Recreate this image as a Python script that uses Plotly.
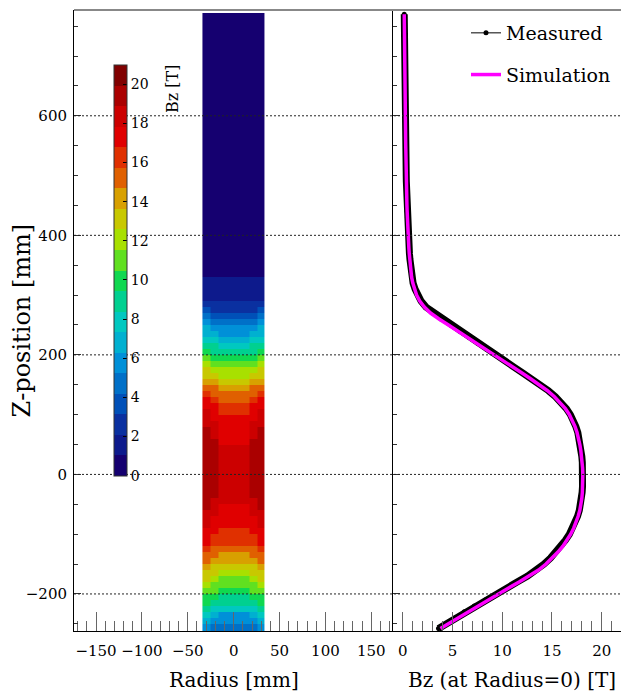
import plotly.graph_objects as go

FONT = "DejaVu Serif"

# ---------------- right panel: on-axis Bz profile ----------------
z_mm = [-258] + list(range(-250, 771, 10))
bz_measured = [
    3.6, 4.4, 5.3, 6.2, 7.2, 8.3, 9.4, 10.4, 11.5, 12.55,
    13.45, 14.2, 14.85, 15.4, 15.9, 16.35, 16.75, 17.08, 17.35, 17.57,
    17.75, 17.88, 17.97, 18.03, 18.07, 18.1, 18.1, 18.08, 18.05, 18.0,
    17.93, 17.85, 17.75, 17.6, 17.4, 17.15, 16.85, 16.45, 15.95, 15.35,
    14.65, 13.85, 12.95, 12.05, 11.15, 10.25, 9.3, 8.4, 7.5, 6.6,
    5.7, 4.8, 3.85, 3.0, 2.35, 1.85, 1.5, 1.25, 1.05, 0.93,
    0.85, 0.79, 0.73, 0.68, 0.64, 0.6, 0.56, 0.53, 0.5, 0.48,
    0.46, 0.44, 0.42, 0.4, 0.39, 0.37, 0.36, 0.35, 0.34, 0.33,
    0.32, 0.31, 0.3, 0.29, 0.28, 0.27, 0.26, 0.25, 0.24, 0.24,
    0.23, 0.22, 0.22, 0.21, 0.21, 0.2, 0.2, 0.19, 0.19, 0.18,
    0.18, 0.17, 0.17, 0.16,
]
bz_simulation = [
    3.8, 4.6, 5.55, 6.5, 7.5, 8.55, 9.6, 10.65, 11.7, 12.75,
    13.65, 14.4, 15.05, 15.6, 16.1, 16.5, 16.88, 17.18, 17.43, 17.63,
    17.8, 17.92, 18.0, 18.05, 18.08, 18.1, 18.1, 18.08, 18.04, 17.98,
    17.9, 17.8, 17.68, 17.52, 17.32, 17.06, 16.75, 16.35, 15.85, 15.25,
    14.55, 13.75, 12.85, 11.95, 11.05, 10.15, 9.2, 8.3, 7.4, 6.48,
    5.55, 4.6, 3.65, 2.8, 2.18, 1.72, 1.4, 1.18, 1.02, 0.9,
    0.82, 0.76, 0.71, 0.66, 0.62, 0.58, 0.55, 0.52, 0.49, 0.47,
    0.45, 0.43, 0.41, 0.4, 0.38, 0.37, 0.36, 0.35, 0.34, 0.33,
    0.32, 0.31, 0.3, 0.29, 0.28, 0.27, 0.26, 0.25, 0.24, 0.24,
    0.23, 0.22, 0.22, 0.21, 0.21, 0.2, 0.2, 0.19, 0.19, 0.18,
    0.18, 0.17, 0.17, 0.16,
]

# ---------------- left panel: 2D Bz map ----------------
radius_edges = [-34, -25.5, -17, -8.5, 0, 8.5, 17, 25.5, 34]
zmap_edges = [-265] + list(range(-250, 351, 10)) + [772]
bz_map_r4 = [
    4.3, 5.3, 6.2, 7.45, 8.55, 9.3, 10.15, 10.9, 11.5, 12.25,
    13.0, 13.7, 14.5, 15.2, 15.85, 16.2, 16.6, 16.9, 17.15, 17.4,
    17.7, 17.9, 18.0, 18.05, 18.1, 18.1, 18.1, 18.05, 18.0, 17.95,
    17.9, 17.8, 17.68, 17.5, 17.28, 17.0, 16.65, 16.2, 15.65, 15.0,
    14.25, 13.4, 12.5, 11.6, 10.7, 9.75, 8.85, 7.95, 7.05, 6.15,
    5.25, 4.3, 3.4, 2.65, 2.2, 1.65, 1.35, 1.15, 1.08, 0.98,
    0.85, 0.4,
]
bz_map_r21 = [
    4.9, 5.9, 6.9, 8.1, 9.1, 9.9, 10.7, 11.45, 12.1, 12.8,
    13.55, 14.25, 15.0, 15.7, 16.3, 16.75, 17.1, 17.45, 17.75, 18.0,
    18.3, 18.85, 19.0, 19.05, 19.1, 19.1, 19.1, 19.05, 19.0, 18.95,
    18.95, 18.92, 18.6, 18.35, 18.05, 17.7, 17.3, 16.85, 16.3, 15.65,
    14.9, 14.05, 13.15, 12.25, 11.3, 10.35, 9.45, 8.55, 7.6, 6.7,
    5.75, 4.8, 3.8, 2.95, 2.25, 1.7, 1.38, 1.17, 1.08, 0.98,
    0.86, 0.42,
]
bz_map_r30 = [
    5.4, 6.4, 7.5, 8.6, 9.6, 10.4, 11.2, 11.95, 12.65, 13.35,
    14.05, 14.75, 15.5, 16.2, 16.9, 17.4, 17.7, 18.2, 18.6, 18.9,
    19.0, 19.1, 19.3, 19.4, 19.45, 19.5, 19.5, 19.45, 19.4, 19.35,
    19.3, 19.2, 19.1, 19.0, 18.75, 18.4, 17.95, 17.4, 16.8, 16.1,
    15.35, 14.5, 13.6, 12.7, 11.75, 10.8, 9.9, 9.0, 8.1, 7.2,
    6.3, 5.3, 4.2, 3.25, 2.4, 1.8, 1.42, 1.2, 1.1, 0.99,
    0.87, 0.45,
]
column_profiles = [bz_map_r30, bz_map_r21, bz_map_r4, bz_map_r4,
                   bz_map_r4, bz_map_r4, bz_map_r21, bz_map_r30]

assert len(z_mm) == len(bz_measured) == len(bz_simulation)
n_rows = len(zmap_edges) - 1
assert all(len(c) == n_rows for c in column_profiles)
bz_map = [[col[i] for col in column_profiles] for i in range(n_rows)]

palette = ["#150070", "#0d1a8c", "#0a30a0", "#0050b8", "#0070c8",
           "#0090d8", "#00b0d0", "#00c8c0", "#00d090", "#10d850",
           "#60e020", "#a8e000", "#c8c800", "#d8a000", "#e06000",
           "#e03000", "#e00000", "#cc0000", "#aa0000", "#800000"]
colorscale = []
for i, c in enumerate(palette):
    colorscale.append([i / len(palette), c])
    colorscale.append([(i + 1) / len(palette), c])

cb_ticks = list(range(0, 21, 2))
y_ticks = [-200, 0, 200, 400, 600]

# ---------------- geometry (page pixels; page body has an 8px offset) ----
OFF = 8
W, H = 629 - OFF, 692 - OFF
PX0, PX1, PY0, PY1 = 74, 629, 10, 631      # plot area in page pixels
ML, MR, MT, MB = PX0 - OFF, 0, PY0 - OFF, 692 - PY1
PW, PH = PX1 - PX0, PY1 - PY0
split = (393.3 - PX0) / PW

def px_x(p):
    return (p - PX0) / PW

def px_y(p):
    return (PY1 - p) / PH

fig = go.Figure()

fig.add_trace(go.Heatmap(
    x=radius_edges, y=zmap_edges, z=bz_map,
    colorscale=colorscale, zmin=0, zmax=21, zsmooth=False,
    xaxis="x", yaxis="y", hoverinfo="skip",
    colorbar=dict(
        x=px_x(114), xanchor="left", y=px_y(475.7), yanchor="bottom",
        len=(475.7 - 65) / PH, lenmode="fraction",
        thickness=13, thicknessmode="pixels", xpad=0, ypad=0,
        outlinewidth=1, outlinecolor="#333",
        ticks="inside", ticklen=4, tickcolor="black", tickwidth=1,
        tickvals=cb_ticks, tickfont=dict(family=FONT, size=14, color="black"),
    ),
))

fig.add_trace(go.Scatter(
    x=bz_measured, y=z_mm, mode="lines",
    line=dict(color="black", width=7),
    xaxis="x2", yaxis="y2", showlegend=False, legendgroup="meas",
    hoverinfo="skip",
))
fig.add_trace(go.Scatter(
    x=bz_measured, y=z_mm, mode="lines+markers", name="Measured",
    line=dict(color="black", width=1), marker=dict(color="black", size=5),
    xaxis="x2", yaxis="y2", legendgroup="meas",
))
fig.add_trace(go.Scatter(
    x=bz_simulation, y=z_mm, mode="lines", name="Simulation",
    line=dict(color="#ff00ff", width=3.5),
    xaxis="x2", yaxis="y2", legendgroup="sim",
))

tick_font = dict(family=FONT, size=15, color="black")
common_x = dict(showline=True, linecolor="black", linewidth=1,
                ticks="inside", ticklen=19, tickwidth=1, tickcolor="#666",
                showgrid=False, zeroline=False, tickfont=tick_font,
                ticklabelstandoff=6)
common_y = dict(showline=True, linecolor="black", linewidth=1,
                ticks="inside", ticklen=7, tickwidth=1, tickcolor="#333",
                showgrid=False, zeroline=False, range=[-262, 777],
                tickvals=y_ticks,
                minor=dict(dtick=50, tick0=0, ticks="inside", ticklen=4,
                           tickcolor="#333"))

fig.update_layout(
    width=W, height=H,
    margin=dict(l=ML, r=MR, t=MT, b=MB),
    paper_bgcolor="white", plot_bgcolor="white",
    font=dict(family=FONT, color="black"),
    xaxis=dict(domain=[0, split], range=[-174, 174], dtick=50, tick0=0,
               minor=dict(dtick=10, tick0=0, ticks="inside", ticklen=10,
                          tickcolor="#666"),
               anchor="y", **common_x),
    xaxis2=dict(domain=[split, 1], range=[-0.94, 22.74], dtick=5, tick0=0,
                minor=dict(dtick=1, tick0=0, ticks="inside", ticklen=10,
                           tickcolor="#666"),
                anchor="y2", **common_x),
    yaxis=dict(anchor="x", tickfont=tick_font, ticklabelstandoff=3, **common_y),
    yaxis2=dict(anchor="x2", matches="y", showticklabels=False, **common_y),
    legend=dict(x=px_x(466), xanchor="left", y=px_y(14), yanchor="top",
                bgcolor="rgba(0,0,0,0)", borderwidth=0,
                font=dict(family=FONT, size=19, color="black"),
                tracegroupgap=14, traceorder="grouped"),
    showlegend=True,
)

shapes = []
for t in y_ticks:
    shapes.append(dict(type="line", xref="paper", yref="y", x0=0, x1=1,
                       y0=t, y1=t, layer="above",
                       line=dict(color="#222", width=1, dash="2px,2px")))
shapes.append(dict(type="line", xref="paper", yref="paper", x0=0, x1=1,
                   y0=1, y1=1, layer="above",
                   line=dict(color="#888", width=2)))
fig.update_layout(shapes=shapes)

fig.add_annotation(text="Z-position [mm]", xref="paper", yref="paper",
                   x=px_x(21), y=0.5, xanchor="center", yanchor="middle",
                   textangle=-90, showarrow=False,
                   font=dict(family=FONT, size=24, color="black"))
fig.add_annotation(text="Radius [mm]", xref="paper", yref="paper",
                   x=px_x(233.5), y=px_y(680), xanchor="center",
                   yanchor="middle", showarrow=False,
                   font=dict(family=FONT, size=20, color="black"))
fig.add_annotation(text="Bz (at Radius=0) [T]", xref="paper", yref="paper",
                   x=px_x(511.5), y=px_y(680), xanchor="center",
                   yanchor="middle", showarrow=False,
                   font=dict(family=FONT, size=20, color="black"))
fig.add_annotation(text="Bz [T]", xref="paper", yref="paper",
                   x=px_x(172), y=px_y(89), xanchor="center",
                   yanchor="middle", textangle=-90, showarrow=False,
                   font=dict(family=FONT, size=16, color="black"))

fig.write_html("out.html")
